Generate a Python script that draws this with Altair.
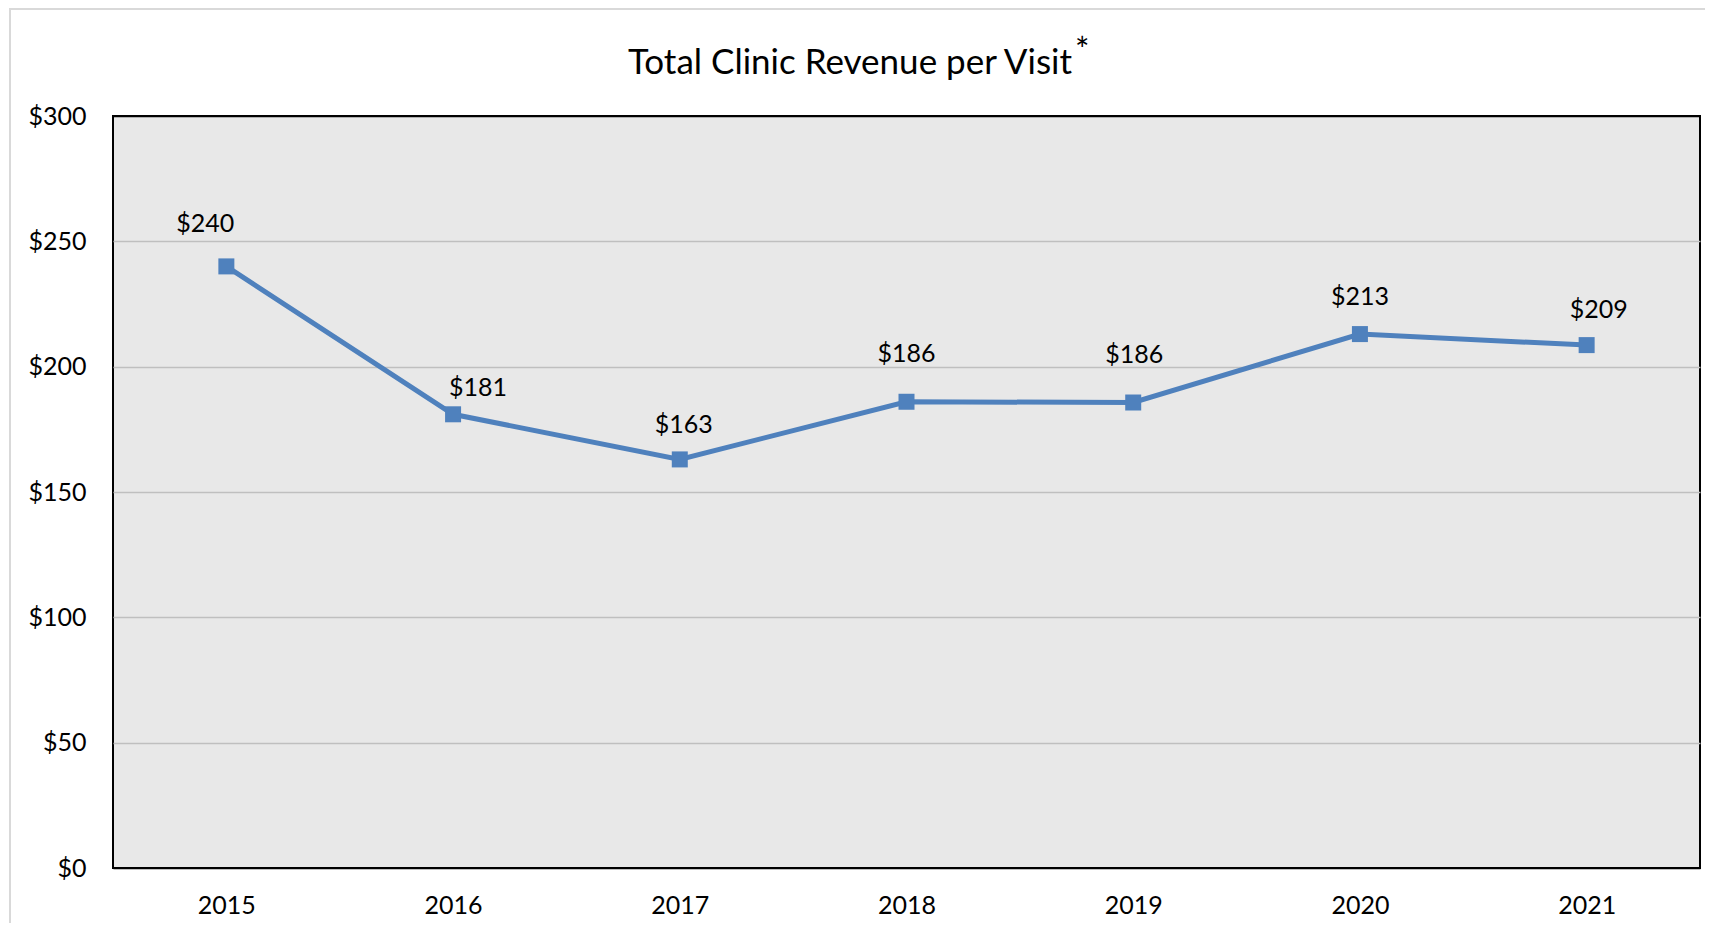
import altair as alt
import pandas as pd

years = ["2015", "2016", "2017", "2018", "2019", "2020", "2021"]
revenue = [240, 181, 163, 186, 185.7, 213, 208.6]
y_ticks = [0, 50, 100, 150, 200, 250, 300]

title_text = "Total Clinic Revenue per Visit"
footnote_mark = "*"

df = pd.DataFrame({"Year": years, "Revenue": revenue})

# manual label nudges (dx, dy) per year, as placed in the original
label_nudge = {
    "2015": (-21, -34),
    "2016": (25, -18),
    "2017": (4, -26),
    "2018": (0, -40),
    "2019": (1, -40),
    "2020": (0, -29),
    "2021": (12, -27),
}

BLUE = "#4f81bd"
FONT = "Lato"

x_enc = alt.X(
    "Year:N",
    sort=years,
    scale=alt.Scale(paddingInner=0, paddingOuter=0),
    axis=alt.Axis(
        title=None, labelAngle=0, domain=False, ticks=False,
        labelPadding=25, labelFontSize=25, labelColor="black", labelFont=FONT,
    ),
)
y_enc = alt.Y(
    "Revenue:Q",
    scale=alt.Scale(domain=[0, 300], nice=False),
    axis=alt.Axis(
        title=None, values=y_ticks, format="$,.0f", domain=False, ticks=False,
        labelPadding=27, labelFontSize=25, labelColor="black", labelFont=FONT,
        gridColor={"condition": {"test": "datum.value == 0 || datum.value == 300", "value": "black"},
                   "value": "#bfbfbf"},
        gridWidth=1.5,
    ),
)

base = alt.Chart(df)
one = pd.DataFrame({"k": [0]})

frame = alt.Chart(one).mark_rect(
    filled=False, stroke="#d9d9d9", strokeWidth=2
).encode(
    x=alt.value(-103), y=alt.value(-107), x2=alt.value(1700), y2=alt.value(900)
)

line = base.mark_line(color=BLUE, strokeWidth=5).encode(x=x_enc, y=y_enc)
points = base.mark_point(shape="square", filled=True, size=256, color=BLUE, opacity=1).encode(
    x="Year:N", y="Revenue:Q"
)

label_layers = []
for yr in years:
    dx, dy = label_nudge[yr]
    label_layers.append(
        base.transform_filter(alt.datum.Year == yr)
        .mark_text(font=FONT, fontSize=25, color="black", dx=dx, dy=dy,
                   baseline="alphabetic", align="center")
        .encode(x="Year:N", y="Revenue:Q", text=alt.Text("Revenue:Q", format="$,.0f"))
    )

title = alt.Chart(one).mark_text(
    font=FONT, fontSize=35, color="black", align="center", baseline="alphabetic"
).encode(x=alt.value(737), y=alt.value(-42), text=alt.value(title_text))

star = alt.Chart(one).mark_text(
    font=FONT, fontSize=34, color="black", align="left", baseline="alphabetic"
).encode(x=alt.value(962), y=alt.value(-54), text=alt.value(footnote_mark))

chart = alt.layer(frame, line, points, *label_layers, title, star).properties(
    width=1587,
    height=752,
    background="white",
    autosize=alt.AutoSizeParams(type="none"),
    padding={"left": 105, "top": 108, "right": 5, "bottom": 55},
).configure_view(
    fill="#e8e8e8", stroke="black", strokeWidth=2
)

chart.save("out.html", embed_options={"renderer": "svg", "actions": False})
